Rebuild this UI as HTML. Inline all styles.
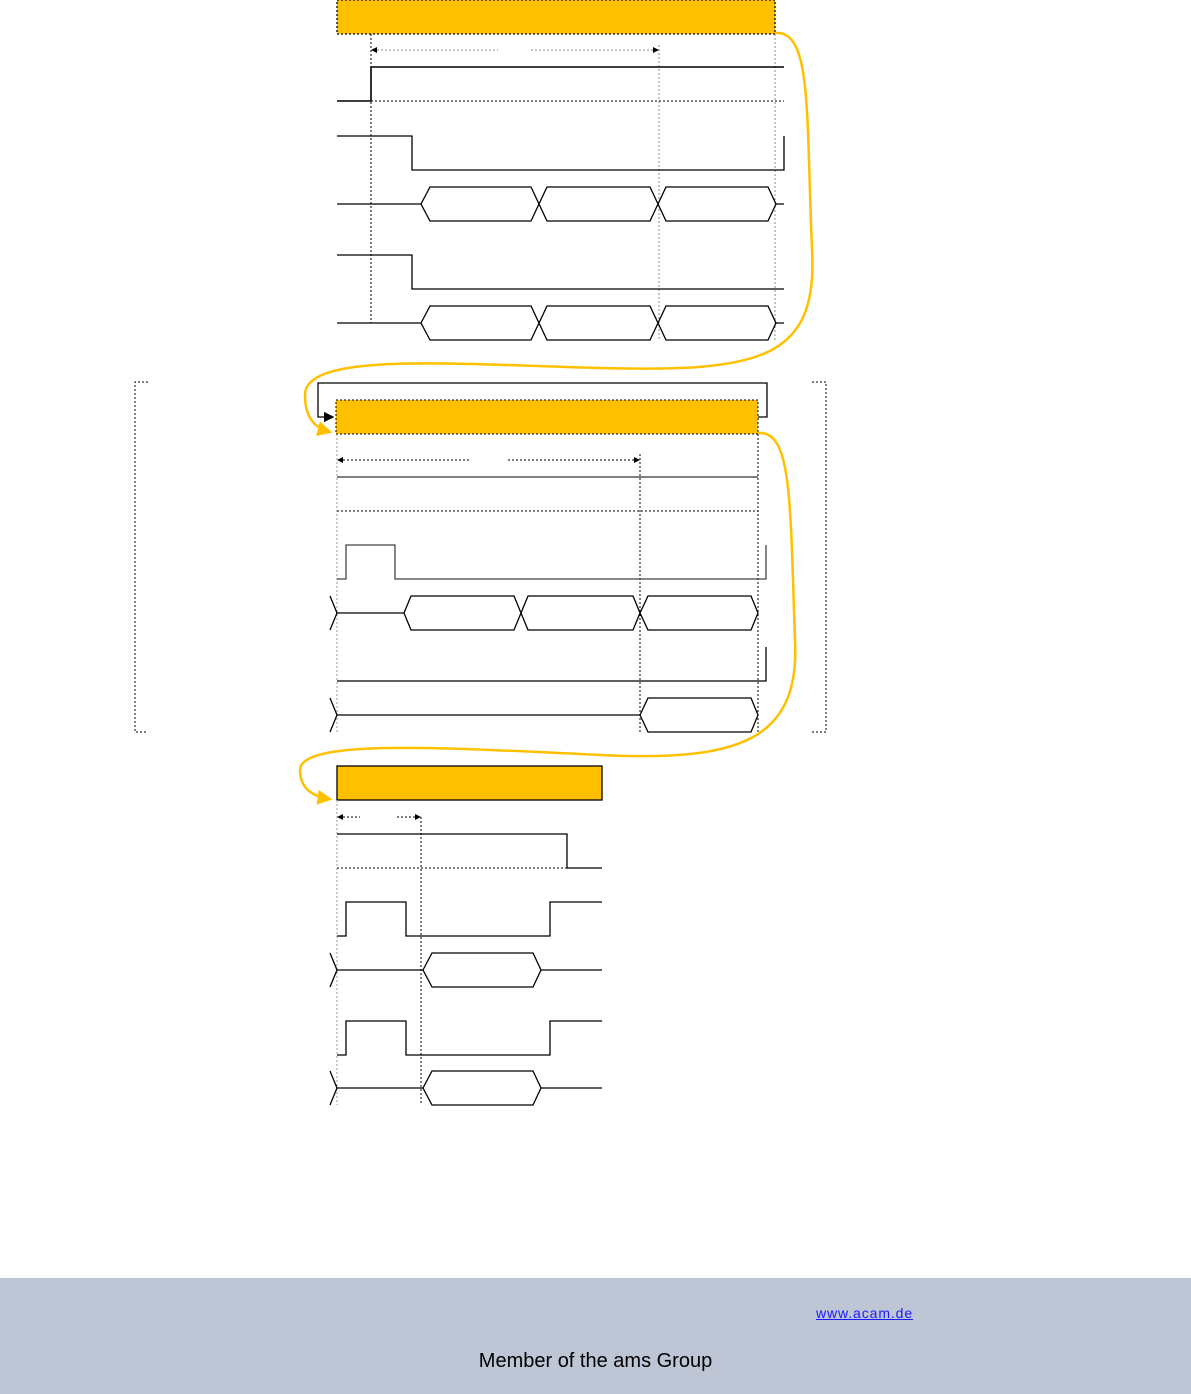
<!DOCTYPE html>
<html><head><style>
html,body{margin:0;padding:0;background:#fff;width:1191px;height:1394px;overflow:hidden;position:relative;font-family:"Liberation Sans",sans-serif}
svg{position:absolute;left:0;top:0}
.foot{position:absolute;left:0;top:1278px;width:1191px;height:116px;background:#bec5d4}
.link{position:absolute;left:816px;top:1305px;font-size:14px;color:#1a1aff;text-decoration:underline;letter-spacing:0.9px}
.mem{position:absolute;left:0;width:1191px;text-align:center;top:1350px;font-size:20px;color:#000}
</style></head><body>
<svg width="1191" height="1394" viewBox="0 0 1191 1394">
<defs>
<marker id="a" markerWidth="8" markerHeight="8" refX="7" refY="4" orient="auto"><path d="M0,0 L8,4 L0,8z" fill="#000"/></marker>
<marker id="y" markerWidth="6" markerHeight="6" refX="5" refY="3" orient="auto"><path d="M0,0 L6,3 L0,6z" fill="#ffc000"/></marker>
</defs>
<g fill="none" stroke="#000" stroke-width="1.3">
<!-- TOP -->
<rect x="337" y="0" width="438" height="34" fill="#ffc000" stroke-dasharray="2,2"/>
<g stroke-dasharray="2,2" stroke-width="1"><line x1="371" y1="34" x2="371" y2="323"/><line x1="659" y1="45" x2="659" y2="340" stroke="#888"/><line x1="775" y1="34" x2="775" y2="340" stroke="#888"/>
<line x1="373" y1="50" x2="498" y2="50" stroke="#888"/><line x1="531" y1="50" x2="657" y2="50" stroke="#888"/>
<line x1="371" y1="101" x2="784" y2="101"/></g>
<path d="M371,50 l6,-3 v6z M659,50 l-6,-3 v6z" fill="#000" stroke="none"/>
<path d="M337,101 H371 V67 H784" stroke-width="1.6"/>
<path d="M337,136 H412 V170 H784 V136"/>
<path d="M337,204 H421 M776,204 H784"/>
<path d="M421,204 L430,187 H531 L539,204 L531,221 H430 Z M539,204 L547,187 H650 L658,204 L650,221 H547 Z M658,204 L666,187 H768 L776,204 L768,221 H666 Z"/>
<path d="M337,255 H412 V289 H784"/>
<path d="M337,323 H421 M776,323 H784"/>
<path d="M421,323 L430,306 H531 L539,323 L531,340 H430 Z M539,323 L547,306 H650 L658,323 L650,340 H547 Z M658,323 L666,306 H768 L776,323 L768,340 H666 Z"/>
<!-- MIDDLE -->
<path d="M148,382 H135 V732 H148 M812,382 H826 V732 H812" stroke-dasharray="2,2" stroke-width="1"/>
<path d="M758,417 H767 V383 H318 V417 H333" marker-end="url(#a)"/>
<rect x="336" y="400" width="422" height="34" fill="#ffc000" stroke-dasharray="2,2" stroke-width="1"/>
<g stroke-dasharray="2,2" stroke-width="1"><line x1="337" y1="434" x2="337" y2="732" stroke="#999"/><line x1="640" y1="454" x2="640" y2="732"/><line x1="758" y1="434" x2="758" y2="732"/>
<line x1="339" y1="460" x2="471" y2="460"/><line x1="508" y1="460" x2="638" y2="460"/>
<line x1="337" y1="511" x2="758" y2="511"/></g>
<path d="M337,460 l6,-3 v6z M640,460 l-6,-3 v6z" fill="#000" stroke="none"/>
<path d="M337,477 H758" stroke="#555" stroke-width="1.6"/>
<path d="M337,579 H346 V545 H395 V579 H766 V545" stroke="#444"/>
<path d="M330,596 L337,613 L330,630 M337,613 H404"/>
<path d="M404,613 L411,596 H514 L521,613 L514,630 H411 Z M521,613 L528,596 H633 L640,613 L633,630 H528 Z M640,613 L648,596 H751 L758,613 L751,630 H648 Z"/>
<path d="M337,681 H766 V647"/>
<path d="M330,698 L337,715 L330,732 M337,715 H640"/>
<path d="M640,715 L648,698 H751 L758,715 L751,732 H648 Z"/>
<!-- BOTTOM -->
<rect x="337" y="766" width="265" height="34" fill="#ffc000"/>
<g stroke-dasharray="2,2" stroke-width="1"><line x1="337" y1="800" x2="337" y2="1105" stroke="#999"/><line x1="421" y1="817" x2="421" y2="1105"/>
<line x1="339" y1="817" x2="360" y2="817"/><line x1="397" y1="817" x2="419" y2="817"/>
<line x1="337" y1="868" x2="567" y2="868"/></g>
<path d="M337,817 l6,-3 v6z M421,817 l-6,-3 v6z" fill="#000" stroke="none"/>
<path d="M337,834 H567 V868 H602"/>
<path d="M337,936 H346 V902 H406 V936 H550 V902 H602"/>
<path d="M330,953 L337,970 L330,987 M337,970 H423 M541,970 H602"/>
<path d="M423,970 L432,953 H533 L541,970 L533,987 H432 Z"/>
<path d="M337,1055 H346 V1021 H406 V1055 H550 V1021 H602"/>
<path d="M330,1071 L337,1088 L330,1105 M337,1088 H423 M541,1088 H602"/>
<path d="M423,1088 L432,1071 H533 L541,1088 L533,1105 H432 Z"/>
</g>
<g fill="none" stroke="#ffc000" stroke-width="2.5">
<path d="M775,33 C812,30 806,110 812,250 C818,360 760,372 600,368 C450,364 305,352 305,395 C305,418 315,428 330,432" marker-end="url(#y)"/>
<path d="M758,433 C792,430 790,500 795,640 C800,740 740,762 600,755 C450,748 300,738 300,770 C300,790 315,797 330,799" marker-end="url(#y)"/>
</g>
</svg>
<div class="foot"></div>
<div class="link">www.acam.de</div>
<div class="mem">Member of the ams Group</div>
</body></html>
